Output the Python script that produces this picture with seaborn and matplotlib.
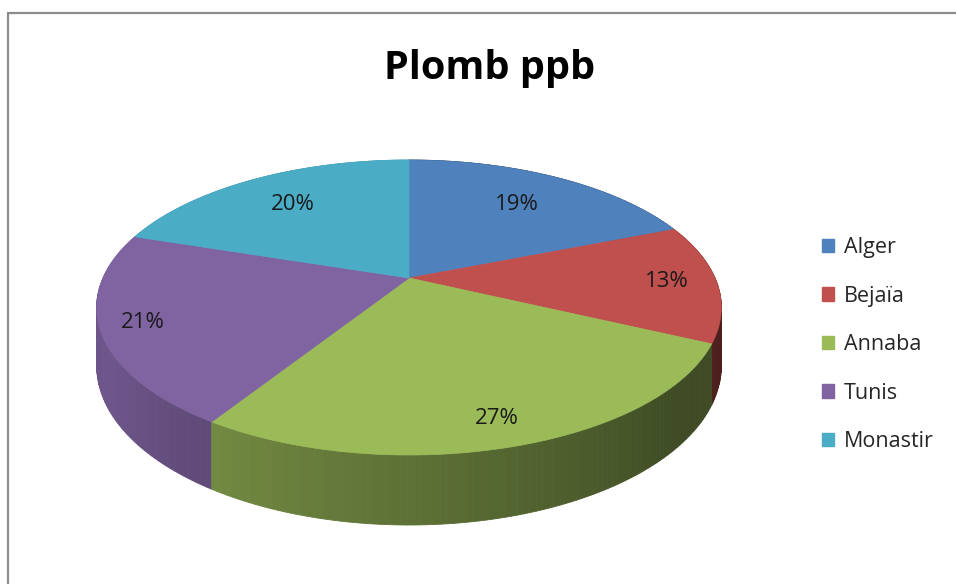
import numpy as np
import matplotlib.pyplot as plt
from matplotlib.patches import Polygon, Patch
import seaborn as sns

# data
villes = ['Alger', 'Bejaïa', 'Annaba', 'Tunis', 'Monastir']
parts = [19, 13, 27, 21, 20]
couleurs = ['#4F81BD', '#C0504D', '#9BBB59', '#8064A2', '#4BACC6']
titre = 'Plomb ppb'

sns.set_theme(style='white')
plt.rcParams['font.family'] = ['Open Sans', 'DejaVu Sans']

# 3d pie geometry (pixels)
cx, cy = 409, 278
A, B, k = 306, 141.6, 0.2
H = 56


def proj(theta, r=1.0, down=0.0):
    u = r * np.sin(theta)
    v = r * np.cos(theta)
    s = 1.0 / (1.0 + k * v)
    return cx + A * u * s, cy - B * v * s + down * s


def shade(hexcol, f):
    c = np.array(sns.color_palette([hexcol])[0])
    return tuple(np.clip(c * f, 0, 1))


fig = plt.figure(figsize=(9.56, 5.84), dpi=100)
ax = fig.add_axes([0, 0, 1, 1])
ax.set_xlim(0, 956)
ax.set_ylim(584, 0)
ax.axis('off')

# chart border (only left and top visible)
ax.plot([8.5, 8.5, 960], [600, 12.5, 12.5], color='#8C8C8C', lw=1.6, solid_joinstyle='miter')

total = sum(parts)
bornes = np.concatenate([[0], np.cumsum(parts)]) / total * 2 * np.pi

# side walls, back to front
strips = []
for i, col in enumerate(couleurs):
    t = np.linspace(bornes[i], bornes[i + 1], max(int(np.degrees(bornes[i + 1] - bornes[i])), 2) + 1)
    for a0, a1 in zip(t[:-1], t[1:]):
        strips.append((np.cos((a0 + a1) / 2), a0, a1, col))
strips.sort(key=lambda s: -s[0])
for _, a0, a1, col in strips:
    deg = np.degrees((a0 + a1) / 2)
    f = 0.4 + 0.45 * np.clip((deg - 130) / 110, 0, 1)
    pts = [proj(a0), proj(a1), proj(a1, down=H), proj(a0, down=H)]
    ax.add_patch(Polygon(pts, closed=True, fc=shade(col, f), ec=shade(col, f), lw=0.6))

# top faces
for i, col in enumerate(couleurs):
    t = np.linspace(bornes[i], bornes[i + 1], 120)
    pts = [(cx, cy)] + [proj(a) for a in t]
    ax.add_patch(Polygon(pts, closed=True, fc=col, ec=col, lw=0.5))

# percent labels
lab_r = [0.70, 0.84, 0.86, 0.87, 0.72]
for i in range(len(parts)):
    mid = (bornes[i] + bornes[i + 1]) / 2
    x, y = proj(mid, r=lab_r[i])
    ax.text(x, y, f'{parts[i]}%', ha='center', va='center', fontsize=16, color='#1a1a1a')

ax.text(490, 68, titre, ha='center', va='center', fontsize=28.5, fontweight='bold', color='black')

handles = [Patch(fc=c, ec=c) for c in couleurs]
ax.legend(handles, villes, loc='upper left', bbox_to_anchor=(822 / 956, 1 - 237 / 584),
          frameon=False, fontsize=15.5, handlelength=0.58, handleheight=0.58,
          handletextpad=0.45, labelspacing=1.28, borderpad=0, borderaxespad=0)

fig.savefig('out.png', dpi=100)
